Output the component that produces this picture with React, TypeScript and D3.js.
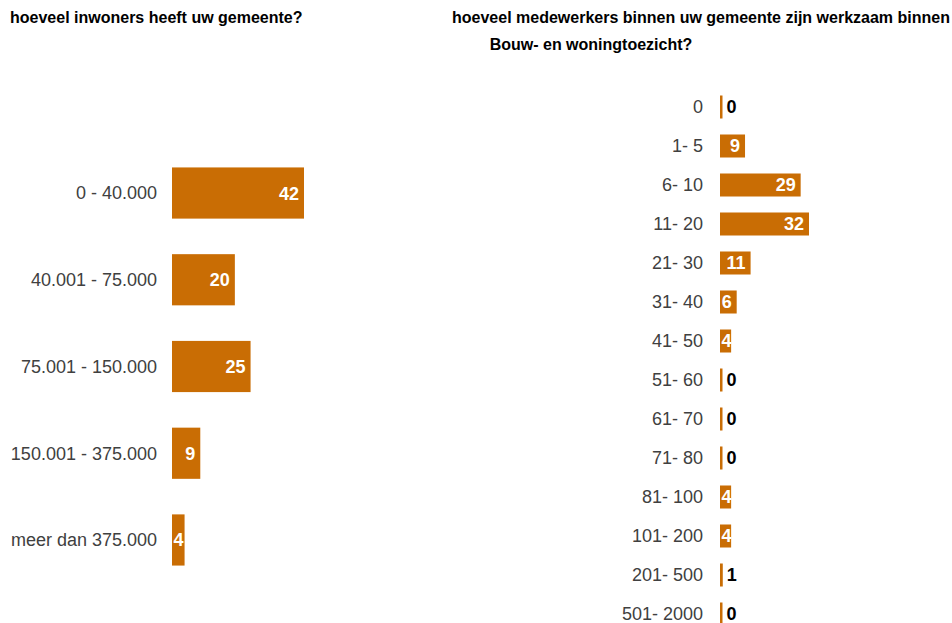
import React from "react";
import * as d3 from "d3";

const leftCategories = ["0 - 40.000", "40.001 - 75.000", "75.001 - 150.000", "150.001 - 375.000", "meer dan 375.000"];
const leftValues = [42, 20, 25, 9, 4];

const rightCategories = ["0", "1- 5", "6- 10", "11- 20", "21- 30", "31- 40", "41- 50", "51- 60", "61- 70", "71- 80", "81- 100", "101- 200", "201- 500", "501- 2000"];
const rightValues = [0, 9, 29, 32, 11, 6, 4, 0, 0, 0, 4, 4, 1, 0];

const leftTitle = "hoeveel inwoners heeft uw gemeente?";
const rightTitle1 = "hoeveel medewerkers binnen uw gemeente zijn werkzaam binnen";
const rightTitle2 = "Bouw- en woningtoezicht?";

const BAR = "#C96D04";
const FONT = "'Liberation Sans', Arial, sans-serif";

function Panel({ cats, vals, x0, x1, y0, y1, labelX }: any) {
  const max = d3.max(vals) as number;
  const x = d3.scaleLinear().domain([0, max]).range([x0, x1]);
  const y = d3.scaleBand<string>().domain(cats).range([y0, y1]).paddingInner(0.41).paddingOuter(0.205);
  return (
    <g>
      {cats.map((c: string, i: number) => {
        const v = vals[i];
        const w = Math.max(2.5, x(v) - x0);
        const yc = (y(c) as number) + y.bandwidth() / 2;
        const inside = v >= 4;
        const lx = inside ? Math.max(x0 + 11.5, x0 + w - 5) : x0 + w + 4;
        return (
          <g key={c}>
            <text x={labelX} y={yc} dy="0.35em" textAnchor="end" fontSize={18} fill="#404040" fontFamily={FONT}>{c}</text>
            <rect x={x0} y={y(c)} width={w} height={y.bandwidth()} fill={BAR} />
            <text x={lx} y={yc} dy="0.36em" textAnchor={inside ? "end" : "start"} fontSize={18} fontWeight="bold" fill={inside ? "#fff" : "#000"} fontFamily={FONT}>{v}</text>
          </g>
        );
      })}
    </g>
  );
}

export default function App() {
  return (
    <svg width={952} height={623} style={{ position: "absolute", left: 0, top: 0, background: "#fff" }}>
      <text x={10} y={23} fontSize={16} fontWeight="bold" fill="#000" fontFamily={FONT}>{leftTitle}</text>
      <text x={452} y={23} fontSize={16} fontWeight="bold" fill="#000" fontFamily={FONT}>{rightTitle1}</text>
      <text x={591} y={50} textAnchor="middle" fontSize={16} fontWeight="bold" fill="#000" fontFamily={FONT}>{rightTitle2}</text>
      <Panel cats={leftCategories} vals={leftValues} x0={172} x1={304} y0={193 - 43.35} y1={540 + 43.35} labelX={157} />
      <Panel cats={rightCategories} vals={rightValues} x0={720} x1={809} y0={107 - 19.5} y1={614 + 19.5} labelX={703} />
    </svg>
  );
}
